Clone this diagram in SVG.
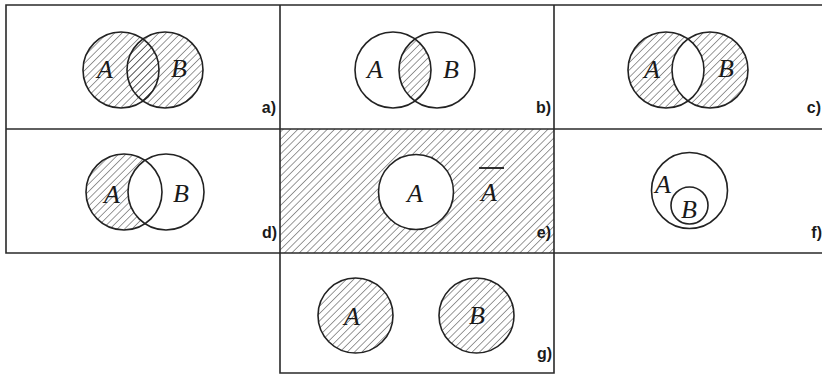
<svg xmlns="http://www.w3.org/2000/svg" width="822" height="375" viewBox="0 0 822 375">
<style>
.frame{fill:none;stroke:#2a2a2a;stroke-width:1.6}
.c{fill:none;stroke:#222;stroke-width:1.6}
.h{fill:url(#hatch)}
.w{fill:#fff}
.t{font-family:"Liberation Serif","Times New Roman",serif;font-style:italic;font-size:26px;fill:#1a1a1a;text-anchor:middle}
.lab{font-family:"Liberation Sans",Arial,sans-serif;font-weight:bold;font-size:16px;fill:#1a1a1a;text-anchor:end}
</style>
<defs>
<pattern id="hatch" patternUnits="userSpaceOnUse" width="5.2" height="5.2" patternTransform="rotate(45)">
<line x1="0" y1="0" x2="0" y2="5.2" stroke="#333" stroke-width="1"/>
</pattern>
<clipPath id="clipAb"><circle cx="393" cy="70" r="38"/></clipPath>
<clipPath id="clipAc"><circle cx="666" cy="70" r="38"/></clipPath>
<clipPath id="clipAd"><circle cx="124" cy="192" r="38"/></clipPath>
</defs>
<rect width="822" height="375" fill="#fff"/>

<g id="panel-e">
<rect x="280" y="129" width="274" height="124" class="h"/>
<circle cx="416" cy="192" r="37.5" class="w"/>
<circle cx="416" cy="192" r="37.5" class="c"/>
<text x="415" y="202" class="t">A</text>
<text x="489" y="201" class="t">A</text>
<line x1="479" y1="168" x2="504" y2="168" stroke="#1a1a1a" stroke-width="1.8"/>
<text x="551" y="238" class="lab">e)</text>
</g>

<g id="frame">
<polyline class="frame" points="822,5 6,5 6,253 822,253"/>
<line class="frame" x1="6" y1="129" x2="822" y2="129"/>
<polyline class="frame" points="280,5 280,373 554,373 554,5"/>
</g>

<g id="panel-a">
<circle cx="121" cy="70" r="38" class="h"/>
<circle cx="165" cy="70" r="38" class="h"/>
<circle cx="121" cy="70" r="38" class="c"/>
<circle cx="165" cy="70" r="38" class="c"/>
<text x="105" y="78" class="t">A</text>
<text x="179" y="77" class="t">B</text>
<text x="276" y="113" class="lab">a)</text>
</g>

<g id="panel-b">
<circle cx="437" cy="70" r="38" class="h" clip-path="url(#clipAb)"/>
<circle cx="393" cy="70" r="38" class="c"/>
<circle cx="437" cy="70" r="38" class="c"/>
<text x="375" y="78" class="t">A</text>
<text x="451" y="78" class="t">B</text>
<text x="551" y="113" class="lab">b)</text>
</g>

<g id="panel-c">
<circle cx="666" cy="70" r="38" class="h"/>
<circle cx="710" cy="70" r="38" class="h"/>
<circle cx="710" cy="70" r="38" class="w" clip-path="url(#clipAc)"/>
<circle cx="666" cy="70" r="38" class="c"/>
<circle cx="710" cy="70" r="38" class="c"/>
<text x="652" y="78" class="t">A</text>
<text x="726" y="77" class="t">B</text>
<text x="821" y="113" class="lab">c)</text>
</g>

<g id="panel-d">
<circle cx="124" cy="192" r="38" class="h"/>
<circle cx="166" cy="192" r="38" class="w" clip-path="url(#clipAd)"/>
<circle cx="124" cy="192" r="38" class="c"/>
<circle cx="166" cy="192" r="38" class="c"/>
<text x="112" y="203" class="t">A</text>
<text x="181" y="202" class="t">B</text>
<text x="277" y="238" class="lab">d)</text>
</g>

<g id="panel-f">
<circle cx="689.5" cy="190.5" r="38" class="c"/>
<circle cx="689.5" cy="205.5" r="18.5" class="c"/>
<text x="663" y="193" class="t">A</text>
<text x="689" y="218" class="t">B</text>
<text x="822" y="238" class="lab">f)</text>
</g>

<g id="panel-g">
<circle cx="355.5" cy="315.5" r="37.5" class="h"/>
<circle cx="476.5" cy="315.5" r="37.5" class="h"/>
<circle cx="355.5" cy="315.5" r="37.5" class="c"/>
<circle cx="476.5" cy="315.5" r="37.5" class="c"/>
<text x="352" y="325" class="t">A</text>
<text x="477" y="324" class="t">B</text>
<text x="552" y="359" class="lab">g)</text>
</g>
</svg>
